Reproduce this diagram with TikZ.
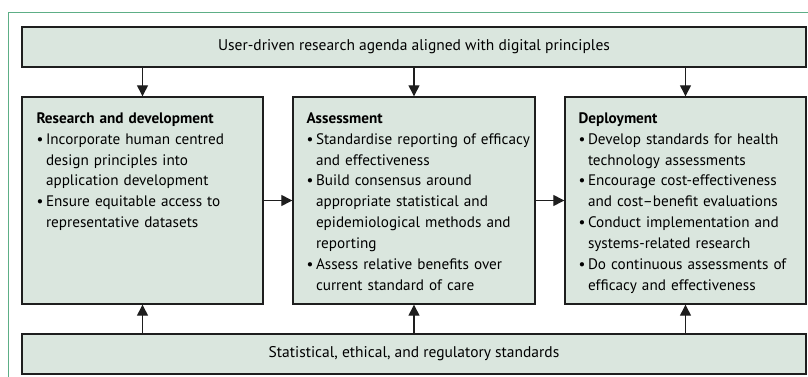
\documentclass[tikz,border=0pt]{standalone}
\usepackage{fontspec}
\setmainfont{PT Sans}
\usetikzlibrary{arrows.meta}
\definecolor{boxfill}{HTML}{DAE6DE}
\definecolor{framegreen}{HTML}{5DAE86}
\definecolor{edgecol}{HTML}{1E1E1E}
\newcommand{\bul}[1]{\par\hangindent=9.5pt\hangafter=1\noindent\makebox[9.5pt][l]{\textbullet}#1\par}
\begin{document}
\begin{tikzpicture}[x=1pt,y=-1pt,
  box/.style={draw=edgecol,fill=boxfill,line width=1.4pt,inner sep=0pt,font=\fontsize{15.5}{20.8}\selectfont},
  arr/.style={-{Triangle[width=11pt,length=11pt]},line width=1.3pt,draw=edgecol},
  txt/.style={anchor=north west,inner sep=0pt,text width=250pt,font=\fontsize{15.2}{20.9}\selectfont\raggedright}]
\useasboundingbox (0,0) rectangle (808,377);
\draw[framegreen,line width=1pt] (8,377) -- (8,13) -- (808,13);
\node[box,minimum width=784pt,minimum height=40pt] (top) at (414,47) {User-driven research agenda aligned with digital principles};
\node[box,minimum width=241pt,minimum height=207pt] (b1) at (142.5,200.5) {};
\node[box,minimum width=242pt,minimum height=207pt] (b2) at (414,200.5) {};
\node[box,minimum width=241pt,minimum height=207pt] (b3) at (685.5,200.5) {};
\node[box,minimum width=784pt,minimum height=40pt] (bot) at (414,354) {Statistical, ethical, and regulatory standards};
\node[txt] (t1) at ([xshift=15pt,yshift=-16pt]b1.north west) {\textbf{Research and development}
\bul{Incorporate human centred\newline design principles into\newline application development}
\bul{Ensure equitable access to\newline representative datasets}};
\node[txt] (t2) at ([xshift=14pt,yshift=-16pt]b2.north west) {\textbf{Assessment}
\bul{Standardise reporting of efficacy\newline and effectiveness}
\bul{Build consensus around\newline appropriate statistical and\newline epidemiological methods and\newline reporting}
\bul{Assess relative benefits over\newline current standard of care}};
\node[txt] (t3) at ([xshift=14pt,yshift=-16pt]b3.north west) {\textbf{Deployment}
\bul{Develop standards for health\newline technology assessments}
\bul{Encourage cost-effectiveness\newline and cost–benefit evaluations}
\bul{Conduct implementation and\newline systems-related research}
\bul{Do continuous assessments of\newline efficacy and effectiveness}};
\foreach \b in {b1,b2,b3}{
  \draw[arr] (top.south -| \b.north) -- (\b.north);
  \draw[arr] (bot.north -| \b.south) -- (\b.south);
}
\draw[arr] (b1.east) -- (b2.west);
\draw[arr] (b2.east) -- (b3.west);
\end{tikzpicture}
\end{document}
